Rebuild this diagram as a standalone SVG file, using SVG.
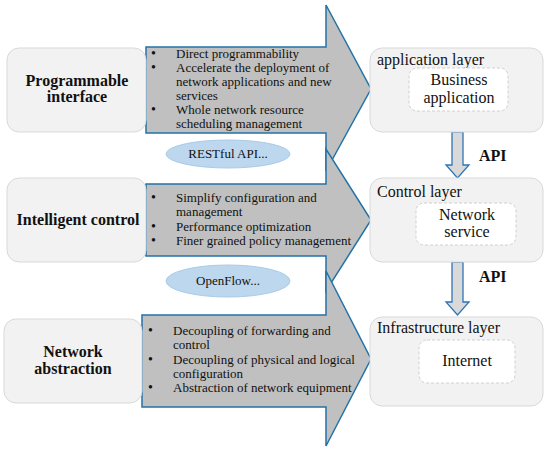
<svg xmlns="http://www.w3.org/2000/svg" width="550" height="453" viewBox="0 0 550 453" font-family="Liberation Serif, serif">
<style>
.lbox{fill:#f2f2f2;stroke:#d9d9d9;stroke-width:1}
.big{fill:#c0c0c0;stroke:#2272a8;stroke-width:1.5;stroke-linejoin:miter}
.ell{fill:#bdd7ee;stroke:#a9cbe8;stroke-width:1}
.inner{fill:#ffffff;stroke:#d0d0d0;stroke-width:1;stroke-dasharray:3,2}
.api{fill:#d9d9d9;stroke:#2e75b6;stroke-width:1.3}
text{font-family:'Liberation Serif',serif;fill:#111}
.lt{font-size:16px;font-weight:bold;text-anchor:middle}
.bt{font-size:13px}
.bu{font-size:14px}
.rt{font-size:16px}
.ct{font-size:16px;text-anchor:middle}
.at{font-size:16px;font-weight:bold}
</style>
<rect width="550" height="453" fill="#ffffff"/>
<g id="connectors">
<path class="big" d="M146,47 H326 V5 L371,89 L326,171 V133 H146 Z"/>
<path class="big" d="M146,184 H326 V149 L371,220 L326,291 V256 H146 Z"/>
<path class="big" d="M142,315 H326 V271 L371,359 L326,446 V407 H142 Z"/>
<path class="api" d="M452,132 H463 V165 H469 L457.5,178 L446,165 H452 Z"/>
<path class="api" d="M452,262 H463 V302 H469 L457.5,315 L446,302 H452 Z"/>
<text class="at" x="479" y="161">API</text>
<text class="at" x="479" y="282">API</text>
</g>
<g id="prog">
<rect class="lbox" x="7" y="48" width="139" height="84" rx="12"/>
<text class="lt" x="77" y="86">Programmable</text>
<text class="lt" x="77" y="102">interface</text>
</g>
<g id="intel">
<rect class="lbox" x="7" y="178" width="139" height="84" rx="12"/>
<text class="lt" x="78" y="225">Intelligent control</text>
</g>
<g id="netabs">
<rect class="lbox" x="4" y="319" width="138" height="84" rx="12"/>
<text class="lt" x="73" y="357">Network</text>
<text class="lt" x="73" y="374">abstraction</text>
</g>
<g id="list1">
<text class="bu" x="151" y="58">•</text><text class="bt" x="176" y="58">Direct programmability</text>
<text class="bu" x="151" y="72">•</text><text class="bt" x="176" y="72">Accelerate the deployment of</text>
<text class="bt" x="176" y="86">network applications and new</text>
<text class="bt" x="176" y="100">services</text>
<text class="bu" x="151" y="114">•</text><text class="bt" x="176" y="114">Whole network resource</text>
<text class="bt" x="176" y="128">scheduling management</text>
</g>
<g id="list2">
<text class="bu" x="151" y="202">•</text><text class="bt" x="176" y="202">Simplify configuration and</text>
<text class="bt" x="176" y="216">management</text>
<text class="bu" x="151" y="231">•</text><text class="bt" x="176" y="231">Performance optimization</text>
<text class="bu" x="151" y="245">•</text><text class="bt" x="176" y="245">Finer grained policy management</text>
</g>
<g id="list3">
<text class="bu" x="148" y="335">•</text><text class="bt" x="173" y="335">Decoupling of forwarding and</text>
<text class="bt" x="173" y="349">control</text>
<text class="bu" x="148" y="364">•</text><text class="bt" x="173" y="364">Decoupling of physical and logical</text>
<text class="bt" x="173" y="378">configuration</text>
<text class="bu" x="148" y="392">•</text><text class="bt" x="173" y="392">Abstraction of network equipment</text>
</g>
<g id="restful">
<ellipse class="ell" cx="228" cy="154" rx="62" ry="14"/>
<text class="bt" x="228" y="158" text-anchor="middle">RESTful API...</text>
</g>
<g id="openflow">
<ellipse class="ell" cx="228" cy="281" rx="62" ry="16"/>
<text class="bt" x="228" y="285" text-anchor="middle">OpenFlow...</text>
</g>
<g id="applayer">
<rect class="lbox" x="370" y="48" width="173" height="84" rx="12"/>
<text class="rt" x="377" y="65">application layer</text>
<rect class="inner" x="409" y="68" width="99" height="43" rx="8"/>
<text class="ct" x="459" y="85">Business</text>
<text class="ct" x="459" y="103">application</text>
</g>
<g id="ctrllayer">
<rect class="lbox" x="370" y="178" width="173" height="84" rx="12"/>
<text class="rt" x="377" y="197">Control layer</text>
<rect class="inner" x="416" y="203" width="100" height="42" rx="8"/>
<text class="ct" x="467" y="220">Network</text>
<text class="ct" x="467" y="237">service</text>
</g>
<g id="infralayer">
<rect class="lbox" x="370" y="317" width="173" height="89" rx="12"/>
<text class="rt" x="377" y="333">Infrastructure layer</text>
<rect class="inner" x="419" y="340" width="96" height="43" rx="8"/>
<text class="ct" x="467" y="366">Internet</text>
</g>
</svg>
